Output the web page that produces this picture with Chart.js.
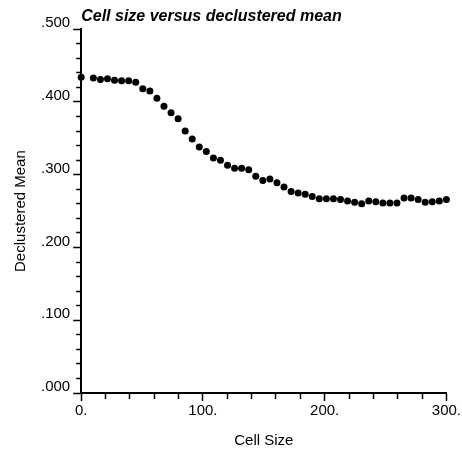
<!DOCTYPE html>
<html>
<head>
<meta charset="utf-8">
<script src="https://cdn.jsdelivr.net/npm/chart.js@4"></script>
<style>
  html, body { margin: 0; padding: 0; background: #fff; }
  #wrap { width: 462px; height: 449px; }
</style>
</head>
<body>
<div id="wrap"><canvas id="chart"></canvas></div>
<script>
// cell size used for declustering (0 = naive mean)
const cellSizes = [
  0, 10, 15.8, 21.6, 27.4, 33.2, 39, 44.8, 50.6, 56.4, 62.2, 68, 73.8,
  79.6, 85.4, 91.2, 97, 102.8, 108.6, 114.4, 120.2, 126, 131.8, 137.6,
  143.4, 149.2, 155, 160.8, 166.6, 172.4, 178.2, 184, 189.8, 195.6, 201.4,
  207.2, 213, 218.8, 224.6, 230.4, 236.2, 242, 247.8, 253.6, 259.4, 265.2,
  271, 276.8, 282.6, 288.4, 294.2, 300
];

const declusteredMeans = [
  0.434, 0.433, 0.431, 0.432, 0.430, 0.429, 0.429, 0.427, 0.418, 0.415,
  0.405, 0.394, 0.385, 0.377, 0.360, 0.349, 0.338, 0.332, 0.323, 0.320,
  0.313, 0.309, 0.309, 0.307, 0.298, 0.292, 0.294, 0.289, 0.283, 0.277,
  0.275, 0.273, 0.270, 0.267, 0.267, 0.267, 0.266, 0.264, 0.262, 0.260,
  0.264, 0.263, 0.261, 0.261, 0.261, 0.268, 0.268, 0.266, 0.262, 0.263,
  0.264, 0.266
];

const xMajor = 100;
const yMajor = 0.1;

const FONT = "'Liberation Sans', Arial, Helvetica, sans-serif";
Chart.defaults.color = "#000";
Chart.defaults.font.family = FONT;

const isMajor = (v, step) => Math.abs(v / step - Math.round(v / step)) < 1e-6;

const points = cellSizes.map((x, i) => ({ x: x, y: declusteredMeans[i] }));

const ctx = document.getElementById("chart").getContext("2d");
new Chart(ctx, {
  type: "scatter",
  data: {
    datasets: [
      {
        label: "Declustered Mean",
        data: points,
        backgroundColor: "#000",
        borderWidth: 0,
        pointRadius: 3.5,
        pointHoverRadius: 3.5,
        clip: false,
      },
    ],
  },
  options: {
    responsive: true,
    maintainAspectRatio: false,
    animation: false,
    layout: { padding: 0 },
    plugins: {
      legend: { display: false },
      tooltip: { enabled: false },
      title: {
        display: true,
        text: "Cell size versus declustered mean",
        align: "start",
        fullSize: false,
        color: "#000",
        font: { size: 16, weight: "bold", style: "italic", family: FONT },
        padding: { top: 7, bottom: 3 },
      },
    },
    scales: {
      x: {
        type: "linear",
        min: 0,
        max: 300,
        border: { display: true, color: "#000", width: 2 },
        grid: {
          drawOnChartArea: false,
          drawTicks: true,
          tickLength: 8,
          tickColor: "#000",
          tickWidth: 1.5,
          // minor ticks only reach part of the way
          tickBorderDash: (c) => (isMajor(c.tick.value, xMajor) ? [] : [5, 20]),
        },
        ticks: {
          stepSize: 20,
          padding: 1,
          maxRotation: 0,
          autoSkip: false,
          font: { size: 15 },
          callback: (v) => (isMajor(v, xMajor) ? v + "." : ""),
        },
        title: {
          display: true,
          text: "Cell Size",
          font: { size: 15, lineHeight: 1.1 },
          padding: { top: 11.5, bottom: 0 },
        },
      },
      y: {
        type: "linear",
        min: 0,
        max: 0.5,
        border: { display: true, color: "#000", width: 2 },
        grid: {
          drawOnChartArea: false,
          drawTicks: true,
          tickLength: 8,
          tickColor: "#000",
          tickWidth: 1.5,
          tickBorderDash: (c) => (isMajor(c.tick.value, yMajor) ? [] : [0, 3, 5, 20]),
        },
        ticks: {
          stepSize: 0.02,
          padding: 3,
          labelOffset: -6,
          autoSkip: false,
          font: { size: 15 },
          callback: (v) => (isMajor(v, yMajor) ? "." + v.toFixed(3).split(".")[1] : ""),
        },
        title: {
          display: true,
          text: "Declustered Mean",
          font: { size: 15 },
          padding: { top: 12, bottom: 8 },
        },
      },
    },
  },
});
</script>
</body>
</html>
